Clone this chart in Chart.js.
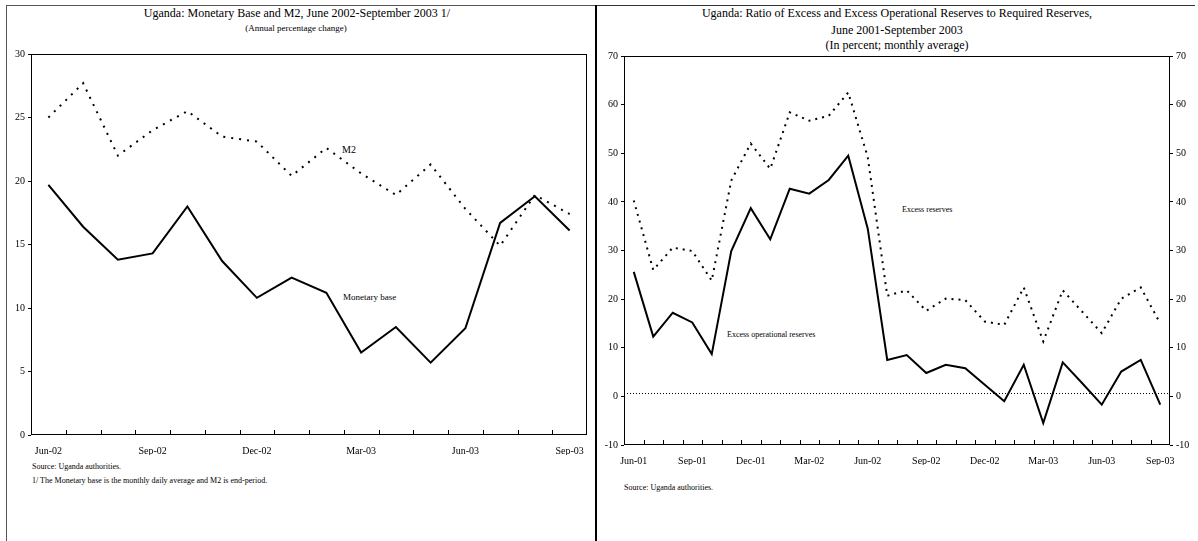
<!DOCTYPE html>
<html>
<head>
<meta charset="utf-8">
<script src="https://cdn.jsdelivr.net/npm/chart.js@4.4.0/dist/chart.umd.min.js"></script>
<style>
  body { margin: 0; background: #fff; font-family: "Liberation Serif", "Times New Roman", serif; color: #000; }
  #page { position: relative; width: 1198px; height: 541px; overflow: hidden; }
  .frame { position: absolute; background: #000; }
  .txt { position: absolute; white-space: nowrap; line-height: 1; }
  .c { transform: translateX(-50%); }
  canvas { position: absolute; }
</style>
</head>
<body>
<div id="page">
  <div class="frame" style="left:6px;top:5px;width:589px;height:1px;background:#555"></div>
  <div class="frame" style="left:6px;top:5px;width:1px;height:536px;background:#555"></div>
  <div class="frame" style="left:595px;top:5px;width:2px;height:536px"></div>
  <div class="frame" style="left:597px;top:5px;width:598px;height:1px;background:#333"></div>

  <div class="txt c" style="left:297px;top:7px;font-size:12px">Uganda: Monetary Base and M2, June 2002-September 2003 1/</div>
  <div class="txt c" style="left:296px;top:24px;font-size:9px">(Annual percentage change)</div>

  <div class="txt c" style="left:897px;top:7px;font-size:12px">Uganda: Ratio of Excess and Excess Operational Reserves to Required Reserves,</div>
  <div class="txt c" style="left:897px;top:24px;font-size:12px">June 2001-September 2003</div>
  <div class="txt c" style="left:897px;top:39px;font-size:12px">(In percent; monthly average)</div>

  <div class="txt" style="left:342px;top:145px;font-size:10px">M2</div>
  <div class="txt" style="left:343px;top:293px;font-size:9px">Monetary base</div>
  <div class="txt" style="left:902px;top:206px;font-size:8px">Excess reserves</div>
  <div class="txt" style="left:727px;top:331px;font-size:8px">Excess operational reserves</div>

  <div class="txt" style="left:32px;top:463px;font-size:8px">Source: Uganda authorities.</div>
  <div class="txt" style="left:32px;top:477px;font-size:8px">1/ The Monetary base is the monthly daily average and M2 is end-period.</div>
  <div class="txt" style="left:624px;top:484px;font-size:8px">Source: Uganda authorities.</div>

  <canvas id="leftChart" width="595" height="470" style="left:0;top:0"></canvas>
  <canvas id="rightChart" width="601" height="480" style="left:597px;top:0"></canvas>
</div>
<script>
// left panel: monthly, Jun-02 .. Sep-03
const leftMonths = ['Jun-02', 'Jul-02', 'Aug-02', 'Sep-02', 'Oct-02', 'Nov-02', 'Dec-02', 'Jan-03',
    'Feb-03', 'Mar-03', 'Apr-03', 'May-03', 'Jun-03', 'Jul-03', 'Aug-03', 'Sep-03'];
const monetaryBase = [19.7, 16.4, 13.8, 14.3, 18.0, 13.7, 10.8, 12.4, 11.2, 6.5, 8.5, 5.7, 8.4, 16.7, 18.8, 16.1];
const m2 = [25.0, 27.7, 22.0, 24.0, 25.5, 23.5, 23.1, 20.4, 22.6, 20.6, 18.9, 21.3, 17.8, 14.9, 18.9, 17.4];
const leftTicks = [0, 5, 10, 15, 20, 25, 30];

// right panel: monthly, Jun-01 .. Sep-03
const rightMonths = ['Jun-01', 'Jul-01', 'Aug-01', 'Sep-01', 'Oct-01', 'Nov-01', 'Dec-01', 'Jan-02',
    'Feb-02', 'Mar-02', 'Apr-02', 'May-02', 'Jun-02', 'Jul-02', 'Aug-02', 'Sep-02', 'Oct-02', 'Nov-02',
    'Dec-02', 'Jan-03', 'Feb-03', 'Mar-03', 'Apr-03', 'May-03', 'Jun-03', 'Jul-03', 'Aug-03', 'Sep-03'];
const excessReserves = [40.3, 26.0, 30.6, 29.9, 23.8, 44.4, 52.0, 46.8, 58.4, 56.7, 57.7, 62.5, 49.2, 20.7,
    21.8, 17.6, 20.1, 19.8, 15.4, 14.7, 22.4, 11.3, 21.8, 17.4, 13.0, 20.1, 22.4, 15.0];
const excessOperational = [25.6, 12.3, 17.2, 15.2, 8.7, 29.9, 38.7, 32.3, 42.7, 41.7, 44.5, 49.5, 34.5, 7.5,
    8.5, 4.8, 6.5, 5.8, 2.4, -1.0, 6.5, -5.5, 7.0, 2.7, -1.7, 5.1, 7.5, -1.7];
const rightTicks = [-10, 0, 10, 20, 30, 40, 50, 60, 70];
const zeroLineValue = 0.6;

const FONT = { family: '"Liberation Serif", "Times New Roman", serif', size: 10 };

// plot box + inward tick marks on the category axis + optional dotted reference line
const framePlugin = {
    id: 'frame',
    afterDraw(chart) {
        const ctx = chart.ctx, a = chart.chartArea, x = chart.scales.x;
        ctx.save();
        ctx.strokeStyle = '#000';
        ctx.lineWidth = 1;
        ctx.strokeRect(a.left + 0.5, a.top + 0.5, a.right - a.left - 1, a.bottom - a.top - 1);
        const n = chart.data.labels.length;
        const half = (x.getPixelForValue(1) - x.getPixelForValue(0)) / 2;
        ctx.beginPath();
        for (let i = 0; i < n - 1; i++) {
            const px = Math.round(x.getPixelForValue(i) + half) + 0.5;
            ctx.moveTo(px, a.bottom);
            ctx.lineTo(px, a.bottom - 5);
        }
        ctx.stroke();
        const ref = chart.options.plugins.frame && chart.options.plugins.frame.refLine;
        if (ref !== undefined) {
            const py = Math.round(chart.scales.y.getPixelForValue(ref)) + 0.5;
            ctx.setLineDash([1, 2]);
            ctx.beginPath();
            ctx.moveTo(a.left, py);
            ctx.lineTo(a.right, py);
            ctx.stroke();
        }
        ctx.restore();
    }
};

function xScale(everyLabel) {
    return {
        offset: true,
        grid: { display: false, drawTicks: false },
        border: { display: false },
        afterFit(scale) { scale.height = 20; },
        ticks: {
            autoSkip: false, maxRotation: 0, padding: 10, color: '#000', font: FONT,
            callback(v, i) { return i % everyLabel === 0 ? this.getLabelForValue(v) : ''; }
        }
    };
}

function yScale(min, max, step, pos, w, values) {
    return {
        position: pos, min: min, max: max,
        grid: { drawOnChartArea: false, drawTicks: true, tickLength: 3, color: '#000' },
        border: { display: false },
        afterFit(scale) { scale.width = w; },
        afterBuildTicks(scale) { scale.ticks = values.map(v => ({ value: v })); },
        ticks: { stepSize: step, padding: 3, color: '#000', font: FONT }
    };
}

new Chart(document.getElementById('leftChart'), {
    type: 'line',
    data: {
        labels: leftMonths,
        datasets: [
            { label: 'Monetary base', data: monetaryBase, borderColor: '#000', borderWidth: 2, pointRadius: 0, tension: 0 },
            { label: 'M2', data: m2, borderColor: '#000', borderWidth: 2, borderDash: [2, 6], pointRadius: 0, tension: 0 }
        ]
    },
    options: {
        responsive: false, animation: false,
        layout: { padding: { left: 7, right: 8, top: 54, bottom: 15 } },
        plugins: { legend: { display: false }, tooltip: { enabled: false } },
        scales: {
            x: xScale(3),
            y: yScale(0, 30, 5, 'left', 24, leftTicks)
        }
    },
    plugins: [framePlugin]
});

new Chart(document.getElementById('rightChart'), {
    type: 'line',
    data: {
        labels: rightMonths,
        datasets: [
            { label: 'Excess operational reserves', data: excessOperational, borderColor: '#000', borderWidth: 2, pointRadius: 0, tension: 0 },
            { label: 'Excess reserves', data: excessReserves, borderColor: '#000', borderWidth: 2, borderDash: [2, 5], pointRadius: 0, tension: 0 }
        ]
    },
    options: {
        responsive: false, animation: false,
        layout: { padding: { left: 5, right: 4, top: 56, bottom: 15 } },
        plugins: { legend: { display: false }, tooltip: { enabled: false }, frame: { refLine: zeroLineValue } },
        scales: {
            x: xScale(3),
            y: yScale(-10, 70, 10, 'left', 22, rightTicks),
            y2: yScale(-10, 70, 10, 'right', 24, rightTicks)
        }
    },
    plugins: [framePlugin]
});
</script>
</body>
</html>
